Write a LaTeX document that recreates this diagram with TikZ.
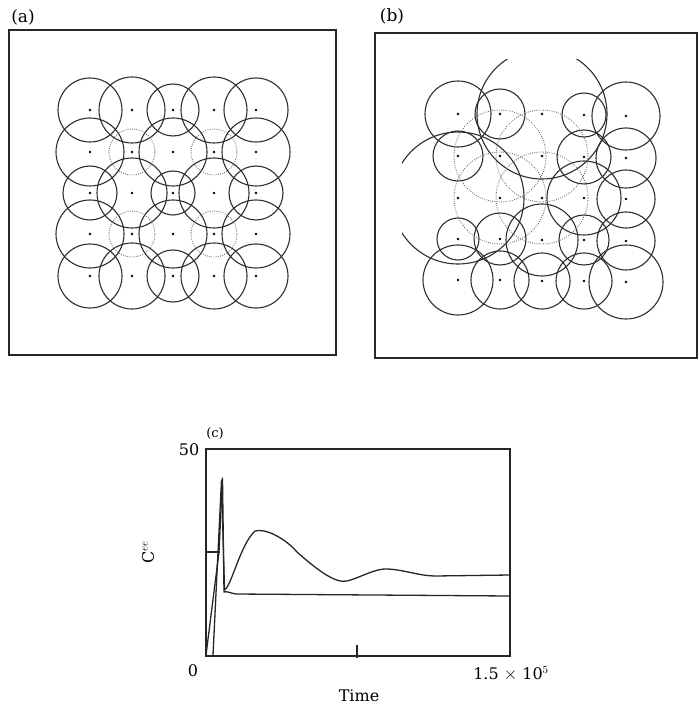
\documentclass[tikz,border=0pt]{standalone}
\usepackage{fontspec}
\setmainfont{DejaVu Serif}
\begin{document}
\begin{tikzpicture}[x=1pt,y=-1pt,
  frame/.style={line width=1.3pt,draw=black!85},
  ring/.style={line width=1.1pt,draw=black!82},
  dotring/.style={line width=0.9pt,draw=black!60,dash pattern=on 0.8pt off 1.4pt},
  ctr/.style={fill=black},
  lbl/.style={font=\fontsize{16}{19}\selectfont,inner sep=0pt},
  curve/.style={line width=1.3pt,draw=black!85,line join=round}]
\useasboundingbox (0,0) rectangle (698,708);

% ---------------- panel (a)
\node[lbl,font=\fontsize{17}{20}\selectfont] (la) at (23,17) {(a)};
\draw[frame] (9,30) rectangle (336,355);
\foreach \x/\y/\r in {90/110/32,132/110/33,173/110/26,214/110/33,256/110/32,
  90/152/34,173/152/34,256/152/34,
  90/193/27,132/193/35,173/193/22,214/193/35,256/193/27,
  90/234/34,173/234/34,256/234/34,
  90/276/32,132/276/33,173/276/26,214/276/33,256/276/32}
  \draw[ring] (\x,\y) circle[radius=\r pt];
\foreach \x/\y in {132/152,214/152,132/234,214/234}
  \draw[dotring] (\x,\y) circle[radius=23pt];
\foreach \x in {90,132,173,214,256}
  \foreach \y in {110,152,193,234,276}
    \fill[ctr] (\x,\y) circle[radius=1.3pt];

% ---------------- panel (b)
\node[lbl,font=\fontsize{17}{20}\selectfont] (lb) at (392,16) {(b)};
\draw[frame] (375,33) rectangle (697,358);
\begin{scope}
\clip (402,60) rectangle (690,345);
\foreach \x/\y/\r in {458/114/33,500/114/25,542/114/65,584/115/22,626/116/34,
  458/156/25,584/157/27,626/158/30,
  458/198/66,584/198/37,626/199/29,
  458/239/21,500/239/26,542/240/36,584/240/25,626/241/29,
  458/280/35,500/280/29,542/281/28,584/281/28,626/282/37}
  \draw[ring] (\x,\y) circle[radius=\r pt];
\foreach \x/\y in {500/156,542/156,500/198,542/198}
  \draw[dotring] (\x,\y) circle[radius=46pt];
\end{scope}
\foreach \x/\y in {458/114,500/114,542/114,584/115,626/116,
  458/156,500/156,542/156,584/157,626/158,
  458/198,500/198,542/198,584/198,626/199,
  458/239,500/239,542/240,584/240,626/241,
  458/280,500/280,542/281,584/281,626/282}
  \fill[ctr] (\x,\y) circle[radius=1.3pt];

% ---------------- panel (c)
\node[lbl,font=\fontsize{13}{15}\selectfont] (lc) at (215,434) {(c)};
\draw[frame] (206,449) rectangle (510,656);
\draw[frame] (206,552) -- (220,552);
\draw[frame] (357,645) -- (357,658);
\node[lbl] (y50) at (189,450) {50};
\node[lbl] (y0) at (193,671) {0};
\node[lbl] (xmax) at (511,674) {1.5 $\times$ 10$^5$};
\node[lbl] (xt) at (359,696) {Time};
\node[lbl,rotate=90] (yt) at (148,552) {C$^{ee}$};
% lower curve
\draw[curve] (206,655) -- (219,552) -- (222.5,478) -- (224,592)
  .. controls (227,591) and (230,593) .. (236,594) -- (510,596);
% upper curve
\draw[curve] (213,655) -- (221.5,480) -- (224.5,590)
  .. controls (232,585) and (240,545) .. (255,531)
  .. controls (265,528) and (285,538) .. (297,552)
  .. controls (315,568) and (335,584) .. (347,581)
  .. controls (360,578) and (375,568) .. (388,569)
  .. controls (405,570) and (420,576) .. (435,576)
  -- (510,575);
\end{tikzpicture}
\end{document}
